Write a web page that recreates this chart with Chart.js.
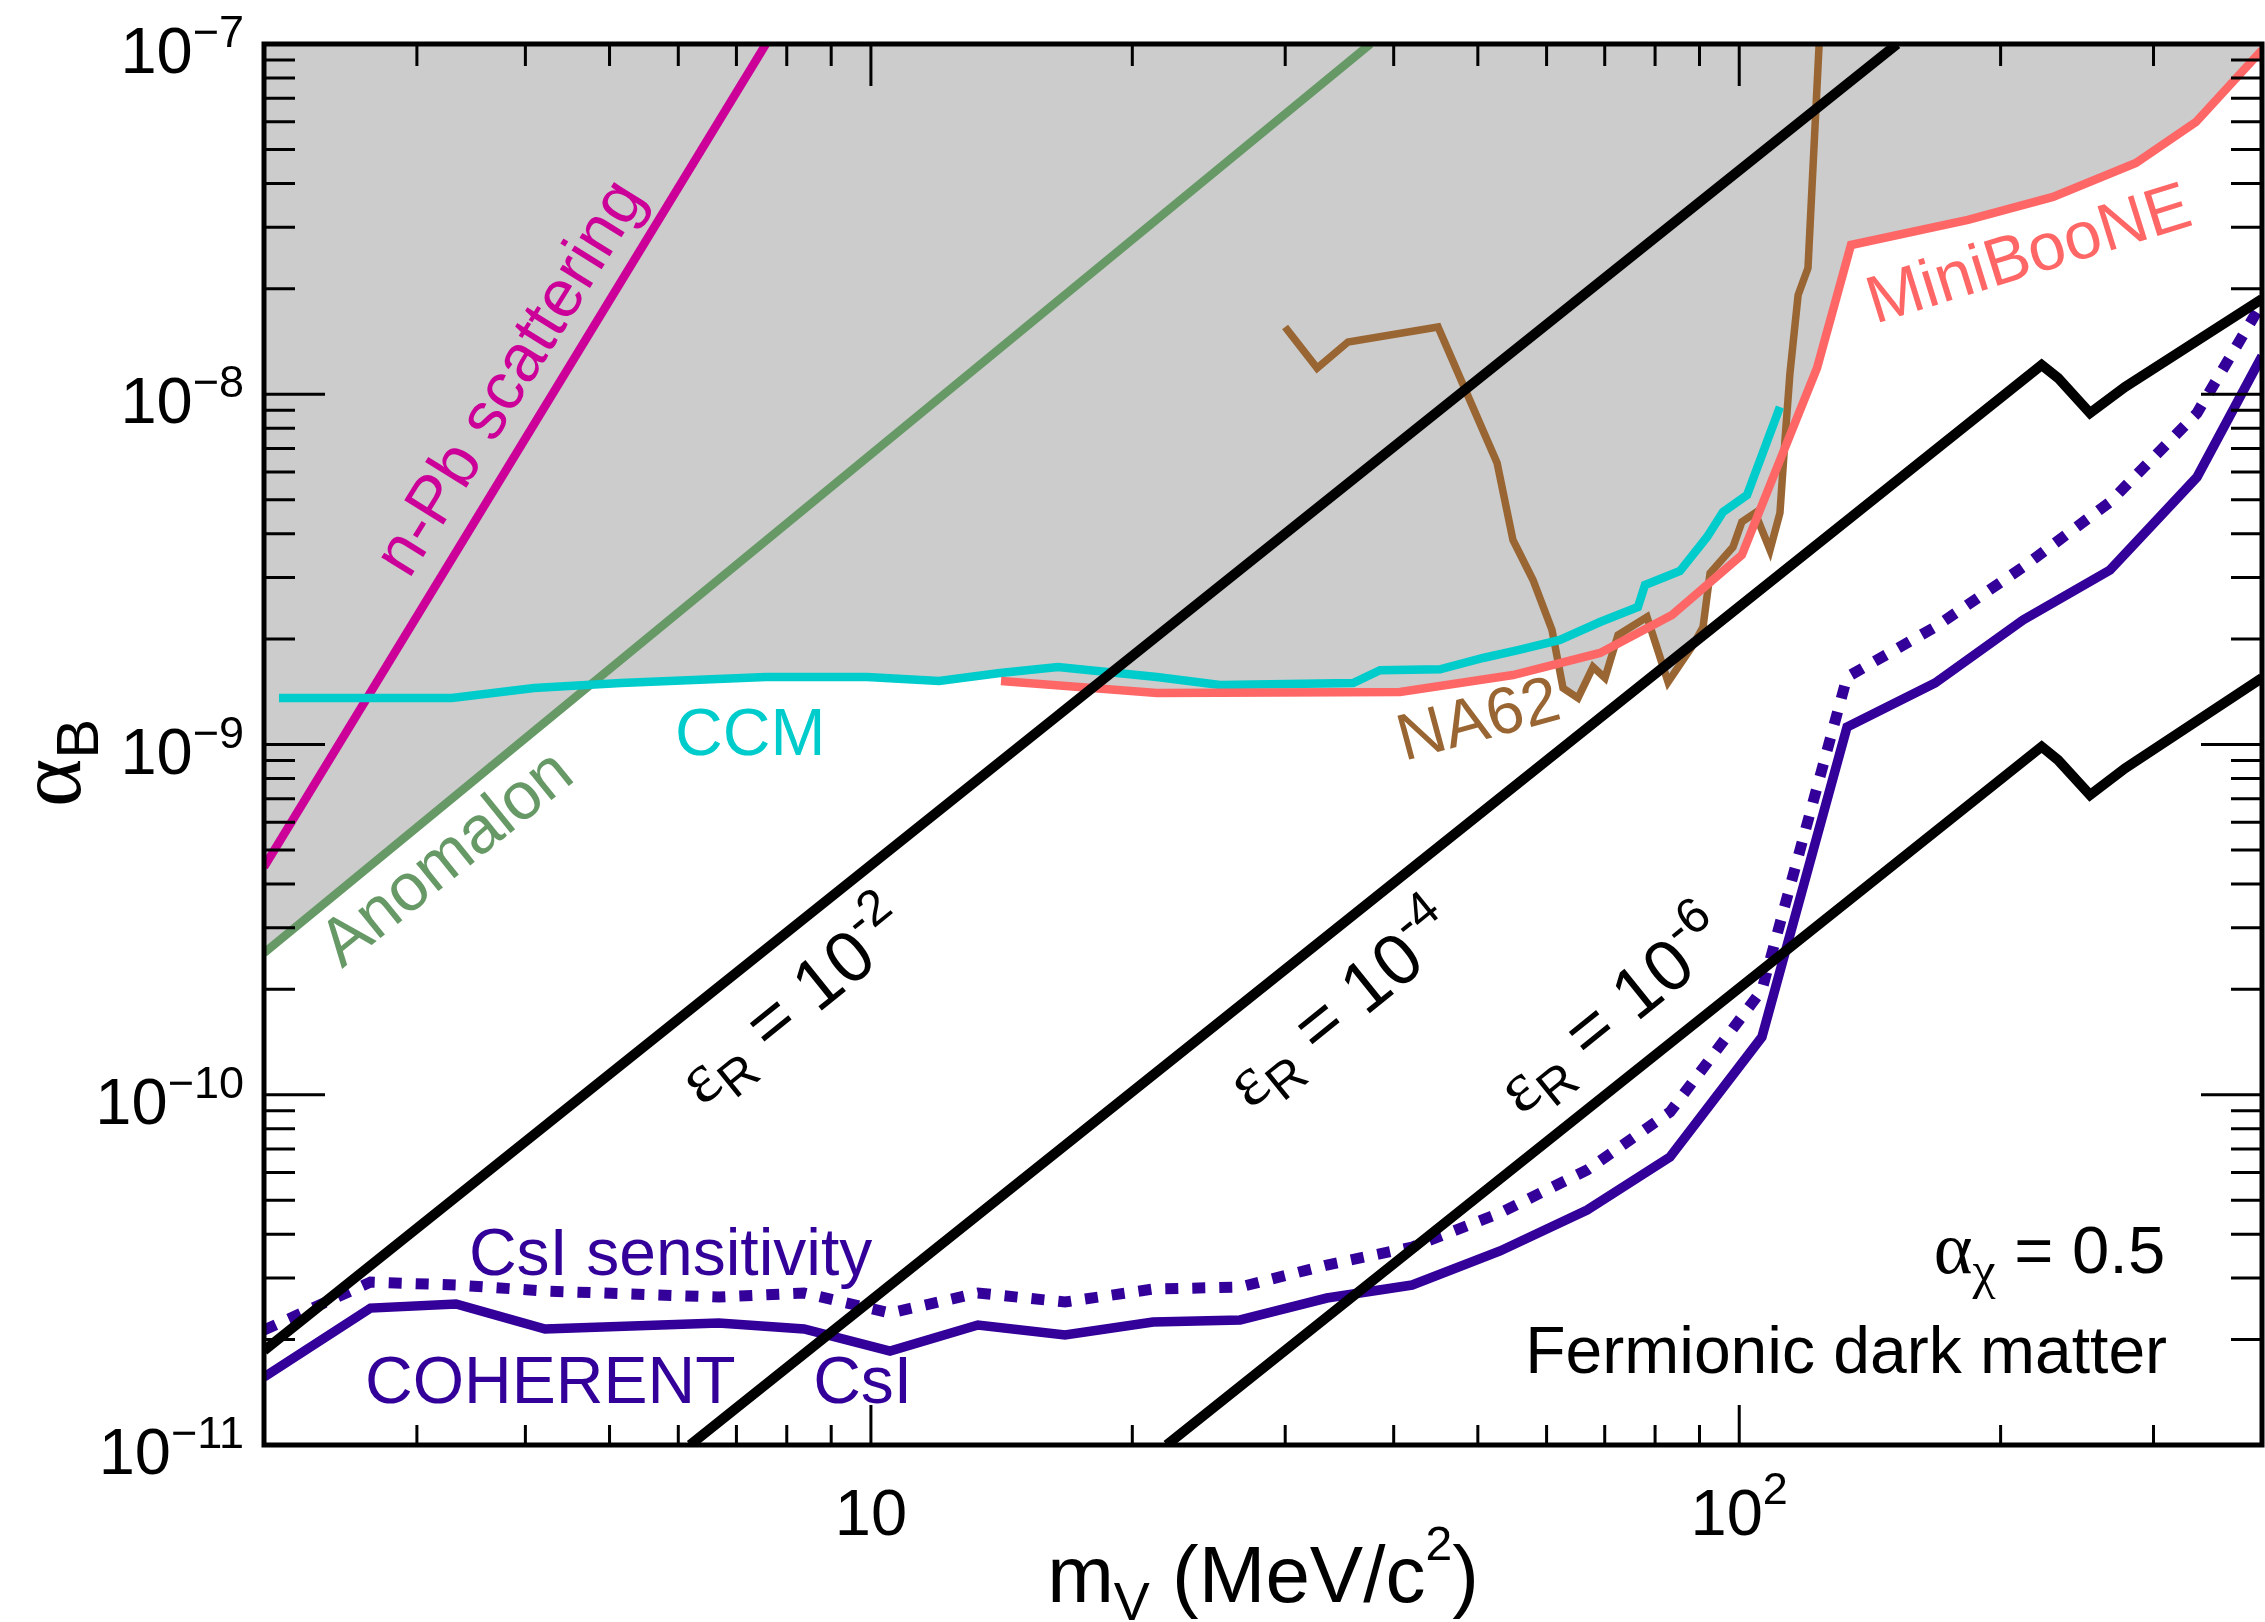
<!DOCTYPE html>
<html><head><meta charset="utf-8">
<script src="https://cdn.jsdelivr.net/npm/chart.js@4.4.1/dist/chart.umd.min.js"></script>
<style>html,body{margin:0;padding:0;background:#fff;overflow:hidden}canvas{display:block}</style>
</head><body>
<canvas id="c" width="2265" height="1622"></canvas>
<script>
// ---------------- data ----------------
// mediator mass m_V in MeV/c^2, coupling alpha_B
const csiMass = [2.0, 2.653, 3.328, 4.214, 6.68, 8.375, 10.52, 13.28, 16.73, 21.13, 26.62, 33.51, 42.0, 53.04, 66.8, 83.24, 106.2, 133.1, 168.1, 212.3, 267.3, 336.7, 400];
const csiLimit = [1.563e-11, 2.46e-11, 2.527e-11, 2.144e-11, 2.230e-11, 2.144e-11, 1.855e-11, 2.201e-11, 2.061e-11, 2.245e-11, 2.275e-11, 2.628e-11, 2.862e-11, 3.580e-11, 4.688e-11, 6.643e-11, 1.462e-10, 1.122e-9, 1.498e-9, 2.267e-9, 3.149e-9, 5.80e-9, 1.286e-8];
const csiSensitivity = [2.130e-11, 2.919e-11, 2.862e-11, 2.752e-11, 2.645e-11, 2.716e-11, 2.381e-11, 2.716e-11, 2.560e-11, 2.788e-11, 2.825e-11, 3.265e-11, 3.675e-11, 4.597e-11, 6.099e-11, 8.927e-11, 1.991e-10, 1.558e-9, 2.165e-9, 3.212e-9, 4.925e-9, 8.84e-9, 1.822e-8];

const ccmMass = [2.081, 2.961, 3.292, 4.093, 5.153, 7.571, 9.897, 11.98, 14.08, 16.42, 21.35, 25.24, 35.92, 38.58, 45.23, 50.69, 55.62, 62.16, 69.14, 76.44, 77.89, 85.46, 91.82, 95.79, 102.1, 111.4];
const ccmLimit = [1.357e-9, 1.357e-9, 1.357e-9, 1.449e-9, 1.498e-9, 1.558e-9, 1.558e-9, 1.518e-9, 1.600e-9, 1.665e-9, 1.558e-9, 1.478e-9, 1.498e-9, 1.63e-9, 1.64e-9, 1.766e-9, 1.861e-9, 1.988e-9, 2.237e-9, 2.470e-9, 2.853e-9, 3.128e-9, 3.912e-9, 4.611e-9, 5.157e-9, 9.195e-9];

const minibooneMass = [14.12, 21.35, 40.67, 54.88, 69.14, 83.68, 100.7, 122.9, 134.5, 183.4, 229.8, 286.3, 335.7, 400];
const minibooneLimit = [1.518e-9, 1.403e-9, 1.412e-9, 1.579e-9, 1.825e-9, 2.343e-9, 3.475e-9, 1.188e-8, 2.668e-8, 3.145e-8, 3.658e-8, 4.572e-8, 5.988e-8, 9.61e-8];

const na62Mass = [29.99, 32.65, 35.44, 44.99, 52.62, 54.88, 57.88, 60.87, 62.67, 65.21, 67.86, 70.05, 72.52, 78.31, 82.80, 88.48, 90.85, 92.56, 98.36, 100.7, 104.3, 108.5, 111.4, 112.9, 114.4, 116.9, 120.0, 123.6];
const na62Limit = [1.556e-8, 1.188e-8, 1.410e-8, 1.556e-8, 6.364e-9, 3.835e-9, 2.949e-9, 2.123e-9, 1.449e-9, 1.357e-9, 1.665e-9, 1.549e-9, 2.054e-9, 2.312e-9, 1.508e-9, 1.924e-9, 2.165e-9, 3.087e-9, 3.664e-9, 4.318e-9, 4.581e-9, 3.592e-9, 4.581e-9, 7.405e-9, 1.150e-8, 1.920e-8, 2.293e-8, 1e-7];

const nPbMass = [2, 7.57];
const nPbLimit = [4.47e-10, 1e-7];
const anomalonMass = [2, 37.6];
const anomalonLimit = [2.54e-10, 1e-7];

const relicE2Mass = [2, 152];
const relicE2Alpha = [1.86e-11, 1e-7];
const relicE4Mass = [6.19, 223.0, 232.9, 253.5, 278.2, 400];
const relicE4Alpha = [1e-11, 1.212e-8, 1.113e-8, 8.84e-9, 1.049e-8, 1.870e-8];
const relicE6Mass = [21.91, 223.0, 232.9, 253.5, 278.2, 400];
const relicE6Alpha = [1e-11, 9.856e-10, 9.03e-10, 7.177e-10, 8.551e-10, 1.548e-9];

// axis ticks
const massTicksMajor = [10, 100];
const massTickExponents = ['', '2'];
const massTicksMinor = [3, 4, 5, 6, 7, 8, 9, 20, 30, 40, 50, 60, 70, 80, 90, 200, 300];
const alphaTicksMajor = [1e-11, 1e-10, 1e-9, 1e-8, 1e-7];
const alphaTickExponents = ['\u221211', '\u221210', '\u22129', '\u22128', '\u22127'];
const alphaTicksMinor = [2e-11, 3e-11, 4e-11, 5e-11, 6e-11, 7e-11, 8e-11, 9e-11,
  2e-10, 3e-10, 4e-10, 5e-10, 6e-10, 7e-10, 8e-10, 9e-10,
  2e-9, 3e-9, 4e-9, 5e-9, 6e-9, 7e-9, 8e-9, 9e-9,
  2e-8, 3e-8, 4e-8, 5e-8, 6e-8, 7e-8, 8e-8, 9e-8];

// ---------------- styling ----------------
const FONT = "'Liberation Sans', Arial, Helvetica, sans-serif";
const GREEK = "'Liberation Serif', 'Times New Roman', serif";
const C_GRAY = '#cccccc', C_NPB = '#cc0099', C_ANOM = '#669966', C_CCM = '#00cccc',
      C_MB = '#ff6666', C_NA62 = '#996633', C_CSI = '#330099';

function pts(xs, ys) { return xs.map((v, i) => ({x: v, y: ys[i]})); }

const datasets = [
  {data: pts(relicE2Mass, relicE2Alpha), borderColor: '#000', borderWidth: 10, order: 0},
  {data: pts(relicE4Mass, relicE4Alpha), borderColor: '#000', borderWidth: 10, order: 0},
  {data: pts(relicE6Mass, relicE6Alpha), borderColor: '#000', borderWidth: 10, order: 0},
  {data: pts(csiMass, csiLimit), borderColor: C_CSI, borderWidth: 9.5, order: 1},
  {data: pts(csiMass, csiSensitivity), borderColor: C_CSI, borderWidth: 11, borderDash: [13, 14], order: 1},
  {data: pts(minibooneMass, minibooneLimit), borderColor: C_MB, borderWidth: 8.5, fill: 'end', backgroundColor: C_GRAY, order: 2},
  {data: pts(ccmMass, ccmLimit), borderColor: C_CCM, borderWidth: 8.5, fill: 'end', backgroundColor: C_GRAY, order: 3},
  {data: pts(na62Mass, na62Limit), borderColor: C_NA62, borderWidth: 7.5, fill: 'end', backgroundColor: C_GRAY, order: 4},
  {data: pts(anomalonMass, anomalonLimit), borderColor: C_ANOM, borderWidth: 8.5, fill: 'end', backgroundColor: C_GRAY, order: 5},
  {data: pts(nPbMass, nPbLimit), borderColor: C_NPB, borderWidth: 8.5, order: 5}
].map(d => Object.assign({showLine: true, pointRadius: 0, pointHoverRadius: 0, tension: 0,
  borderJoinStyle: 'miter', fill: false}, d));

// rich text: parts [{t, f, dy}]
function rich(ctx, x, y, rot, parts, align, color) {
  ctx.save();
  ctx.translate(x, y);
  ctx.rotate(rot * Math.PI / 180);
  ctx.fillStyle = color || '#000';
  ctx.textBaseline = 'alphabetic';
  ctx.textAlign = 'left';
  let total = 0;
  parts.forEach(p => { ctx.font = p.f; p.w = ctx.measureText(p.t).width; total += p.w; });
  let cx = align === 'right' ? -total : (align === 'center' ? -total / 2 : 0);
  parts.forEach(p => { ctx.font = p.f; ctx.fillText(p.t, cx, p.dy || 0); cx += p.w; });
  ctx.restore();
}

const S = (px, fam) => px + 'px ' + (fam || FONT);

const decor = {
  id: 'decor',
  afterDatasetsDraw(chart) {
    const {ctx, scales: {x, y}} = chart;
    const P = (m, a) => [x.getPixelForValue(m), y.getPixelForValue(a)];
    let p;
    p = P(2.938, 2.949e-9); rich(ctx, p[0], p[1], -58.2, [{t: 'n-Pb scattering', f: S(67)}], 'left', C_NPB);
    p = P(2.459, 2.286e-10); rich(ctx, p[0], p[1], -38.9, [{t: 'Anomalon', f: S(67)}], 'left', C_ANOM);
    p = P(5.949, 9.35e-10); rich(ctx, p[0], p[1], 0, [{t: 'CCM', f: S(66)}], 'left', C_CCM);
    p = P(41.1, 8.97e-10); rich(ctx, p[0], p[1], -15, [{t: 'NA62', f: S(66)}], 'left', C_NA62);
    p = P(143.3, 1.587e-8); rich(ctx, p[0], p[1], -17.3, [{t: 'MiniBooNE', f: S(67)}], 'left', C_MB);
    const eps = (m, a, e) => { const q = P(m, a); rich(ctx, q[0], q[1], -38.9,
      [{t: '\u03b5', f: S(72, GREEK)}, {t: 'R', f: S(50), dy: 15}, {t: ' = 10', f: S(72)}, {t: e, f: S(50), dy: -31}], 'left', '#000'); };
    eps(6.39, 9.22e-11, '-2');
    eps(27.33, 9.05e-11, '-4');
    eps(56.07, 8.70e-11, '-6');
    p = P(3.444, 3.06e-11); rich(ctx, p[0], p[1], 0, [{t: 'CsI sensitivity', f: S(66)}], 'left', C_CSI);
    p = P(2.615, 1.318e-11); rich(ctx, p[0], p[1], 0, [{t: 'COHERENT', f: S(66)}], 'left', C_CSI);
    p = P(8.58, 1.318e-11); rich(ctx, p[0], p[1], 0, [{t: 'CsI', f: S(66)}], 'left', C_CSI);
    p = P(309.4, 3.097e-11); rich(ctx, p[0], p[1], 0,
      [{t: '\u03b1', f: S(74, GREEK)}, {t: '\u03c7', f: S(52, GREEK), dy: 15}, {t: ' = 0.5', f: S(67)}], 'right', '#000');
    p = P(311.0, 1.605e-11); rich(ctx, p[0], p[1], 0, [{t: 'Fermionic dark matter', f: S(66)}], 'right', '#000');
  },
  afterDraw(chart) {
    const {ctx, chartArea: a, scales: {x, y}} = chart;
    ctx.save();
    ctx.strokeStyle = '#000';
    ctx.lineWidth = 3;
    ctx.beginPath();
    massTicksMinor.forEach(v => { const q = x.getPixelForValue(v);
      ctx.moveTo(q, a.bottom); ctx.lineTo(q, a.bottom - 20); ctx.moveTo(q, a.top); ctx.lineTo(q, a.top + 22); });
    massTicksMajor.forEach(v => { const q = x.getPixelForValue(v);
      ctx.moveTo(q, a.bottom); ctx.lineTo(q, a.bottom - 40); ctx.moveTo(q, a.top); ctx.lineTo(q, a.top + 42); });
    alphaTicksMinor.forEach(v => { const q = y.getPixelForValue(v);
      ctx.moveTo(a.left, q); ctx.lineTo(a.left + 31, q); ctx.moveTo(a.right, q); ctx.lineTo(a.right - 31, q); });
    alphaTicksMajor.forEach(v => { const q = y.getPixelForValue(v);
      ctx.moveTo(a.left, q); ctx.lineTo(a.left + 61, q); ctx.moveTo(a.right, q); ctx.lineTo(a.right - 61, q); });
    ctx.stroke();
    ctx.lineWidth = 5;
    ctx.strokeRect(a.left, a.top, a.right - a.left, a.bottom - a.top);
    ctx.restore();

    alphaTicksMajor.forEach((v, i) => { const q = y.getPixelForValue(v);
      rich(ctx, a.left - 20, q + 29, 0, [{t: '10', f: S(65)}, {t: alphaTickExponents[i], f: S(45), dy: -26}], 'right', '#000'); });
    massTicksMajor.forEach((v, i) => { const q = x.getPixelForValue(v);
      rich(ctx, q, a.bottom + 90, 0, [{t: '10', f: S(65)}, {t: massTickExponents[i], f: S(45), dy: -31}], 'center', '#000'); });

    rich(ctx, (a.left + a.right) / 2, a.bottom + 157, 0,
      [{t: 'm', f: S(80)}, {t: 'V', f: S(54), dy: 18}, {t: ' (MeV/c', f: S(80)}, {t: '2', f: S(48), dy: -42}, {t: ')', f: S(80)}], 'center', '#000');
    rich(ctx, 80, 807, -90, [{t: '\u03b1', f: S(92, GREEK)}, {t: 'B', f: S(60), dy: 18}], 'left', '#000');
  }
};

new Chart(document.getElementById('c'), {
  type: 'scatter',
  data: {datasets},
  options: {
    responsive: false,
    animation: false,
    devicePixelRatio: 1,
    layout: {padding: {left: 264, right: 3, top: 44, bottom: 177}},
    scales: {
      x: {type: 'logarithmic', min: 2, max: 400, display: false},
      y: {type: 'logarithmic', min: 1e-11, max: 1e-7, display: false}
    },
    plugins: {
      legend: {display: false},
      tooltip: {enabled: false},
      filler: {drawTime: 'beforeDatasetsDraw', propagate: false}
    }
  },
  plugins: [decor]
});
</script>
</body></html>
